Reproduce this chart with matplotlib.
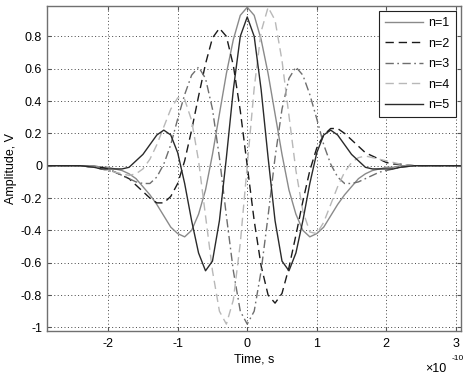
import matplotlib
matplotlib.use('Agg')
import matplotlib.pyplot as plt

config = {
    "font.family": ['Liberation Sans', 'DejaVu Sans'],
    "font.size": 9,
    "axes.unicode_minus": False,
    'figure.figsize': (4.68, 3.76),
    'figure.dpi': 100,
}
plt.rcParams.update(config)

# time axis in units of 1e-10 s
time = [-2.88, -2.6, -2.4, -2.2, -2.1,
        -2.0, -1.9, -1.8, -1.7, -1.6, -1.5, -1.4, -1.3, -1.2, -1.1,
        -1.0, -0.9, -0.8, -0.7, -0.6, -0.5, -0.4, -0.3, -0.2, -0.1,
        0.0,
        0.1, 0.2, 0.3, 0.4, 0.5, 0.6, 0.7, 0.8, 0.9, 1.0,
        1.1, 1.2, 1.3, 1.4, 1.5, 1.6, 1.7, 1.8, 1.9, 2.0,
        2.1, 2.2, 2.4, 2.6, 2.8, 3.07]

n1 = [0, 0, 0, 0, -0.01,
      -0.01, -0.02, -0.03, -0.05, -0.08, -0.13, -0.18, -0.24, -0.31, -0.38,
      -0.42, -0.44, -0.40, -0.30, -0.15, 0.07, 0.32, 0.57, 0.78, 0.93,
      0.98,
      0.93, 0.78, 0.57, 0.32, 0.07, -0.15, -0.30, -0.40, -0.44, -0.42,
      -0.38, -0.31, -0.24, -0.18, -0.13, -0.08, -0.05, -0.03, -0.02, -0.01,
      -0.01, 0, 0, 0, 0, 0]

n2 = [0, 0, 0, -0.01, -0.01,
      -0.02, -0.04, -0.06, -0.08, -0.12, -0.16, -0.20, -0.23, -0.23, -0.19,
      -0.11, 0.03, 0.22, 0.43, 0.63, 0.79, 0.85, 0.80, 0.62, 0.34,
      0.0,
      -0.34, -0.62, -0.80, -0.85, -0.79, -0.63, -0.43, -0.22, -0.03, 0.11,
      0.19, 0.23, 0.23, 0.20, 0.16, 0.12, 0.08, 0.06, 0.04, 0.02,
      0.01, 0.01, 0, 0, 0, 0]

n3 = [0, 0, 0, -0.01, -0.02,
      -0.03, -0.04, -0.06, -0.08, -0.10, -0.11, -0.11, -0.07, 0.01, 0.13,
      0.29, 0.44, 0.56, 0.61, 0.54, 0.35, 0.05, -0.31, -0.65, -0.90,
      -0.98,
      -0.90, -0.65, -0.31, 0.05, 0.35, 0.54, 0.61, 0.56, 0.44, 0.29,
      0.13, 0.01, -0.07, -0.11, -0.11, -0.10, -0.08, -0.06, -0.04, -0.03,
      -0.02, -0.01, 0, 0, 0, 0]

n4 = [0, 0, 0, -0.01, -0.02,
      -0.03, -0.04, -0.05, -0.06, -0.05, -0.02, 0.04, 0.13, 0.24, 0.35,
      0.42, 0.41, 0.28, 0.03, -0.31, -0.65, -0.90, -0.98, -0.83, -0.48,
      0.0,
      0.48, 0.83, 0.98, 0.90, 0.65, 0.31, -0.03, -0.28, -0.41, -0.42,
      -0.35, -0.24, -0.13, -0.04, 0.02, 0.05, 0.06, 0.05, 0.04, 0.03,
      0.02, 0.01, 0, 0, 0, 0]

n5 = [0, 0, 0, -0.01, -0.02,
      -0.02, -0.02, -0.02, -0.01, 0.03, 0.07, 0.13, 0.19, 0.22, 0.19,
      0.08, -0.11, -0.34, -0.54, -0.65, -0.59, -0.34, 0.05, 0.47, 0.80,
      0.92,
      0.80, 0.47, 0.05, -0.34, -0.59, -0.65, -0.54, -0.34, -0.11, 0.08,
      0.19, 0.22, 0.19, 0.13, 0.07, 0.03, -0.01, -0.02, -0.02, -0.02,
      -0.02, -0.01, 0, 0, 0, 0]

x_ticks = [-2, -1, 0, 1, 2, 3]
y_ticks = [-1, -0.8, -0.6, -0.4, -0.2, 0, 0.2, 0.4, 0.6, 0.8]
y_tick_labels = ['-1', '-0.8', '-0.6', '-0.4', '-0.2', '0', '0.2', '0.4', '0.6', '0.8']


def pulse_fig():
    fig = plt.figure()
    ax = fig.add_axes([0.1004, 0.119, 0.884, 0.866])

    ax.plot(time, n1, color='#8a8a8a', lw=1.0, label='n=1')
    ax.plot(time, n2, color='#1a1a1a', lw=1.0, dashes=(6, 3.5), label='n=2')
    ax.plot(time, n3, color='#6e6e6e', lw=1.0, dashes=(6, 2.5, 1.2, 2.5), label='n=3')
    ax.plot(time, n4, color='#b8b8b8', lw=1.0, dashes=(6, 3.5), label='n=4')
    ax.plot(time, n5, color='#2a2a2a', lw=1.0, label='n=5')

    ax.set_xlim(-2.88, 3.07)
    ax.set_ylim(-1.024, 0.99)
    ax.set_xticks(x_ticks)
    ax.set_xticklabels([str(v) for v in x_ticks])
    ax.set_yticks(y_ticks)
    ax.set_yticklabels(y_tick_labels)
    ax.tick_params(direction='in', top=True, right=True, length=3, width=0.8, color='#555555')
    ax.tick_params(axis='x', pad=5)
    ax.tick_params(axis='y', pad=3.5)
    for sp in ax.spines.values():
        sp.set_color('#707070')
        sp.set_linewidth(1.0)

    ax.grid(True, ls=(0, (1, 2.5)), color='#444444', lw=0.7)

    ax.set_xlabel('Time, s')
    ax.xaxis.set_label_coords(0.5, -0.068)
    ax.set_ylabel('Amplitude, V')
    ax.yaxis.set_label_coords(-0.072, 0.5)

    # MATLAB-style exponent under the x axis
    fig.text(424.7 / 468, 1 - 368.5 / 376, '\u00d710', ha='left', va='center', fontsize=9)
    fig.text(452.0 / 468, 1 - 359.0 / 376, '-10', ha='left', va='center', fontsize=6)

    leg = ax.legend(loc='upper right', bbox_to_anchor=(0.988, 0.984), borderaxespad=0,
                    fancybox=False, framealpha=1, edgecolor='#222222',
                    handlelength=3.0, handletextpad=0.45, labelspacing=0.68,
                    borderpad=0.5, fontsize=9)
    leg.get_frame().set_linewidth(0.8)

    fig.savefig('out.png', dpi=100)


if __name__ == '__main__':
    pulse_fig()
